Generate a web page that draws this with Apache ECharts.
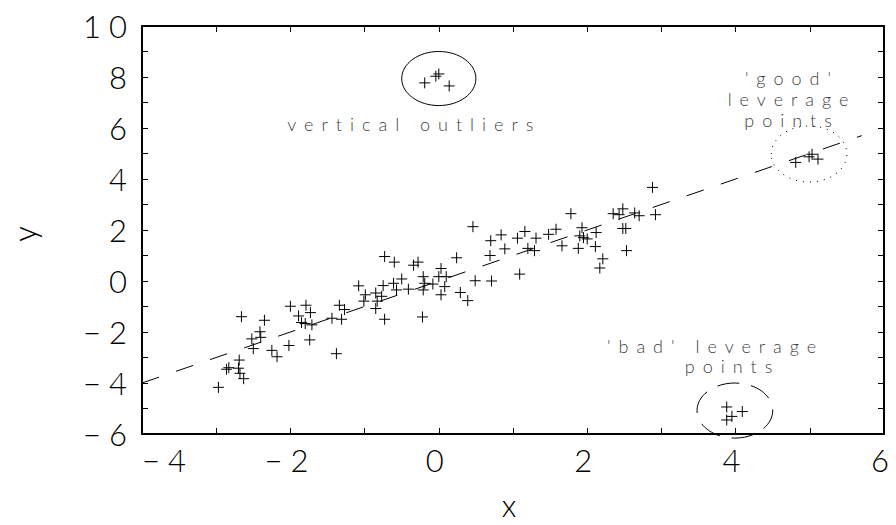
<!DOCTYPE html>
<html>
<head>
<meta charset="utf-8">
<script src="https://cdn.jsdelivr.net/npm/echarts@6/dist/echarts.min.js"></script>
<style>
  html, body { margin: 0; padding: 0; background: #fff; }
  #chart { width: 896px; height: 525px; }
  #chart text { letter-spacing: 8px; }
</style>
</head>
<body>
<div id="chart"></div>
<script>
// main cloud of points
const cloudX = [
  -2.00, -1.79, -1.73, -2.66, -2.35, -1.89, -1.85, -1.80, -1.71, -1.34, -1.27, -1.44, -1.31,
  -2.41, -2.52, -2.40, -1.74, -2.50, -2.25, -2.18, -2.02, -1.38, -2.69, -2.83, -2.86, -2.70,
  -2.68, -2.63, -2.97,
  -0.73, -0.60, -0.34, -0.28, 0.24, 0.03, -0.21, 0.00, 0.10, -0.50, -1.08, -0.75, -0.61,
  -0.57, -0.41, -0.19, -0.08, -0.21, 0.08, 0.03, 0.49, 0.29, 0.39, -0.99, -0.85, -0.77,
  -1.01, -0.83, -0.85, -0.73, -0.22,
  2.88, 1.78, 2.48, 2.35, 2.43, 2.64, 2.70, 2.92, 2.48, 2.52, 2.53, 1.93, 2.12, 1.90, 1.95,
  2.00, 2.11, 1.88, 2.21, 2.17, 1.58, 1.48, 1.66, 1.16, 1.06, 1.31, 0.84, 0.70, 0.69, 0.89,
  1.20, 1.29, 1.09, 0.71, 0.46
];
const cloudY = [
  -0.99, -0.95, -1.24, -1.40, -1.54, -1.37, -1.63, -1.67, -1.72, -0.95, -1.12, -1.46, -1.50,
  -1.99, -2.27, -2.21, -2.31, -2.65, -2.72, -2.97, -2.53, -2.85, -3.10, -3.40, -3.46, -3.42,
  -3.62, -3.83, -4.17,
  0.96, 0.74, 0.62, 0.74, 0.91, 0.49, 0.17, 0.17, 0.17, 0.08, -0.19, -0.18, -0.09,
  -0.35, -0.32, -0.09, -0.12, -0.35, -0.22, -0.54, 0.01, -0.45, -0.77, -0.54, -0.47, -0.60,
  -0.79, -0.79, -1.08, -1.50, -1.41,
  3.67, 2.64, 2.83, 2.64, 2.60, 2.67, 2.56, 2.60, 2.06, 2.06, 1.19, 2.09, 1.90, 1.77, 1.70,
  1.65, 1.35, 1.28, 0.87, 0.51, 2.03, 1.83, 1.38, 1.94, 1.68, 1.68, 1.81, 1.58, 1.00, 1.26,
  1.28, 1.19, 0.27, 0.00, 2.13
];

// outlier groups
const verticalX = [-0.19, -0.04, 0.00, 0.14];
const verticalY = [7.77, 8.03, 8.12, 7.65];
const goodX = [4.81, 4.99, 5.03, 5.11];
const goodY = [4.65, 4.87, 4.97, 4.78];
const badX = [3.88, 3.95, 3.88, 4.09];
const badY = [-4.94, -5.31, -5.45, -5.12];

// fitted line end points
const fitX = [-4, 5.7];
const fitY = [-4, 5.7];

// rings round the groups: centre and half-axes in data units
const ringCx = [0.00, 4.99, 3.99];
const ringCy = [7.94, 4.98, -5.08];
const ringRx = [0.50, 0.51, 0.51];
const ringRy = [1.06, 1.10, 1.08];
const ringDash = [null, [1, 6], [22, 12]];

// notes
const noteText = ['vertical outliers', "'good'\nleverage\npoints", "'bad' leverage", 'points'];
const noteX = [-0.33, 4.76, 3.73, 3.96];
const noteY = [6.15, 7.12, -2.54, -3.35];

const font = 'Lato';
const pts = (xs, ys) => xs.map((x, i) => [x, ys[i]]);
const cross = 'path://M0,5H10M5,0V10';
const minus = v => String(v).replace('-', '\u2212');

const chart = echarts.init(document.getElementById('chart'), null, {renderer: 'svg'});

const frame = {
  axisLine: {show: true, onZero: false, lineStyle: {color: '#000', width: 2}},
  axisTick: {show: true, inside: true, length: 6, lineStyle: {color: '#000', width: 1}},
  minorTick: {show: true, splitNumber: 2, length: 6, lineStyle: {color: '#000', width: 1}},
  splitLine: {show: false},
  minorSplitLine: {show: false}
};
const label = {color: '#000', fontSize: 31, fontFamily: font, fontWeight: 300};

const option = {
  backgroundColor: '#fff',
  animation: false,
  grid: {left: 136, right: 10, top: 26, bottom: 83},
  xAxis: [
    Object.assign({
      type: 'value', min: -4, max: 6, interval: 2, position: 'bottom',
      name: 'x', nameLocation: 'middle', nameGap: 55,
      nameTextStyle: label,
      axisLabel: Object.assign({margin: 10, alignMinLabel: 'left', formatter: minus}, label)
    }, frame),
    Object.assign({
      type: 'value', min: -4, max: 6, interval: 2, position: 'top',
      axisLabel: {show: false}
    }, frame)
  ],
  yAxis: [
    Object.assign({
      type: 'value', min: -6, max: 10, interval: 2, position: 'left',
      name: 'y', nameLocation: 'middle', nameGap: 103,
      nameTextStyle: label,
      axisLabel: Object.assign({margin: 7, formatter: minus}, label)
    }, frame),
    Object.assign({
      type: 'value', min: -6, max: 10, interval: 2, position: 'right',
      axisLabel: {show: false}
    }, frame)
  ],
  series: [
    {
      type: 'line',
      data: pts(fitX, fitY),
      showSymbol: false,
      silent: true,
      lineStyle: {color: '#000', width: 1, type: [18, 18]}
    },
    {
      type: 'scatter',
      data: pts(cloudX, cloudY)
        .concat(pts(verticalX, verticalY), pts(goodX, goodY), pts(badX, badY)),
      symbol: cross,
      symbolSize: 11,
      itemStyle: {color: 'transparent', borderColor: '#000', borderWidth: 1, opacity: 1},
      silent: true
    },
    {
      type: 'custom',
      silent: true,
      data: ringCx.map((cx, i) => [cx, ringCy[i], ringRx[i], ringRy[i]]),
      renderItem: (params, api) => {
        const c = api.coord([api.value(0), api.value(1)]);
        const s = api.size([api.value(2), api.value(3)]);
        return {
          type: 'ellipse',
          shape: {cx: c[0], cy: c[1], rx: s[0], ry: s[1]},
          style: {fill: 'none', stroke: '#000', lineWidth: 1, lineDash: ringDash[params.dataIndex]}
        };
      }
    },
    {
      type: 'scatter',
      silent: true,
      symbolSize: 1,
      itemStyle: {color: 'transparent'},
      data: noteText.map((t, i) => ({name: t, value: [noteX[i], noteY[i]]})),
      label: {
        show: true, position: 'inside', formatter: p => p.name,
        color: '#000', fontSize: 18, fontFamily: font, fontWeight: 300,
        textBorderWidth: 0, lineHeight: 21, align: 'center', verticalAlign: 'middle'
      }
    }
  ]
};

chart.setOption(option);
</script>
</body>
</html>
